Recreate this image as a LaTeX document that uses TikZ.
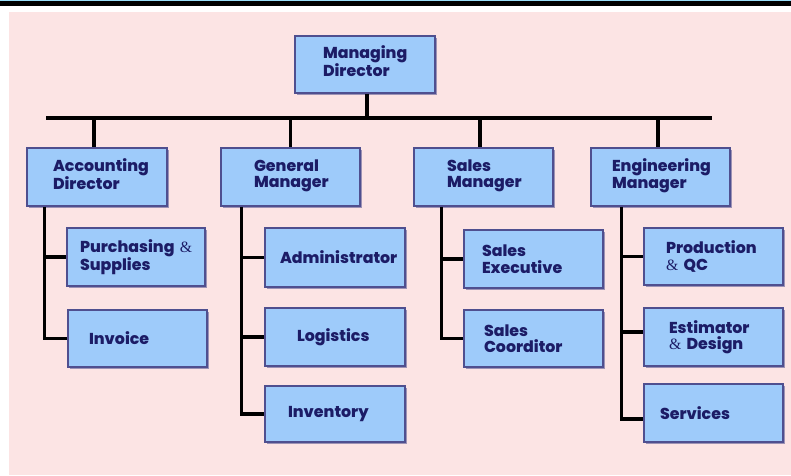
\documentclass[tikz,border=0pt]{standalone}
\usepackage{fontspec}
\setmainfont{Poppins}[BoldFont={* ExtraBold}]
\newfontfamily\ampfont{Liberation Serif}
\usetikzlibrary{shadows}
\definecolor{bgpink}{HTML}{FCE4E4}
\definecolor{boxfill}{HTML}{9ECBFA}
\definecolor{boxedge}{HTML}{4F4F8F}
\definecolor{txt}{HTML}{1C1C66}
\newcommand{\amp}{{\ampfont\mdseries\&}}
\newcommand{\lift}{\\[-10pt]\mbox{}}
\tikzset{
  orgbox/.style args={#1/#2/#3}{draw=boxedge, line width=1.2pt, fill=boxfill,
    drop shadow={shadow xshift=1.5pt, shadow yshift=-1.5pt, fill=boxedge, opacity=0.55},
    minimum width=#1pt, minimum height=#2pt, text width={#1pt-2*#3pt}, inner xsep=#3pt,
    inner ysep=0pt, align=left, font=\bfseries\fontsize{15.8}{16.5}\selectfont, text=txt},
  link/.style={line width=3.8pt, black}
}
\begin{document}
\begin{tikzpicture}[x=1pt,y=-1pt]
\useasboundingbox (0,0) rectangle (791,475);
\fill[white] (0,0) rectangle (791,475);
\fill[black] (0,0) rectangle (791,6);
\fill[cyan!40] (0,0) rectangle (791,1);
\fill[bgpink] (9,12) rectangle (791,475);
% level 1
\node[orgbox=140/57/28] (MD) at (365,64.5) {Managing\\Director\lift};
% level 2
\node[orgbox=140/58/26] (AD) at (97,177) {Accounting\\Director\lift};
\node[orgbox=139/58/33] (GM) at (290.5,177) {General\\Manager\lift};
\node[orgbox=139/58/33] (SM) at (483.5,177) {Sales\\Manager\lift};
\node[orgbox=139/58/21] (EM) at (660.5,177) {Engineering\\Manager\lift};
% level 3
\node[orgbox=138/58/13] (PS) at (136,257) {\mbox{Purchasing \amp}\\Supplies};
\node[orgbox=139/57/21] (IN) at (137.5,338.5) {Invoice};
\node[orgbox=140/59/15] (AM) at (335,257.5) {Administrator};
\node[orgbox=140/58/32] (LG) at (335,337) {Logistics};
\node[orgbox=140/56/23] (IV) at (335,414) {Inventory};
\node[orgbox=139/58/18] (SE) at (533.5,259) {Sales\\Executive};
\node[orgbox=139/57/20] (SC) at (533.5,338.5) {Sales\\Coorditor};
\node[orgbox=139/57/22] (PQ) at (713.5,256.5) {Production\\\amp{} QC};
\node[orgbox=139/58/25] (ED) at (713.5,337) {Estimator\\\amp{} Design};
\node[orgbox=139/58/16] (SV) at (713.5,413) {Services};
% bus
\coordinate (busL) at (46,118);
\coordinate (busR) at (712,118);
\draw[link] (busL) -- (busR);
\draw[link] ([xshift=2pt]MD.south) -- ([xshift=2pt]MD.south |- busL);
\draw[link] ([xshift=-3pt]AD.north |- busL) -- ([xshift=-3pt]AD.north);
\draw[link] (GM.north |- busL) -- (GM.north);
\draw[link] ([xshift=-3.5pt]SM.north |- busL) -- ([xshift=-3.5pt]SM.north);
\draw[link] ([xshift=-2.5pt]EM.north |- busL) -- ([xshift=-2.5pt]EM.north);
% branches
\draw[link] ([xshift=18pt]AD.south west) |- (IN.west);
\draw[link] ([xshift=18pt]AD.south west |- PS.west) -- (PS.west);
\draw[link] ([xshift=21pt]GM.south west) |- (IV.west);
\draw[link] ([xshift=21pt]GM.south west |- AM.west) -- (AM.west);
\draw[link] ([xshift=21pt]GM.south west |- LG.west) -- (LG.west);
\draw[link] ([xshift=28pt]SM.south west) |- (SC.west);
\draw[link] ([xshift=28pt]SM.south west |- SE.west) -- (SE.west);
\draw[link] ([xshift=31pt]EM.south west) |- ([yshift=-6pt]SV.west);
\draw[link] ([xshift=31pt]EM.south west |- PQ.west) -- (PQ.west);
\draw[link] ([xshift=31pt]EM.south west |- ED.west) ++(0,-5) -- ([yshift=5pt]ED.west);
\end{tikzpicture}
\end{document}
